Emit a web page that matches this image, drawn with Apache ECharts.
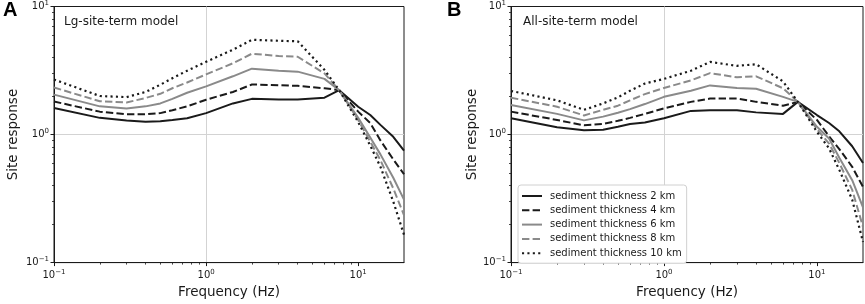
<!DOCTYPE html>
<html>
<head>
<meta charset="utf-8">
<script src="https://cdn.jsdelivr.net/npm/echarts@6.0.0/dist/echarts.min.js"></script>
<style>
  html, body { margin: 0; padding: 0; background: #fff; }
  #chart { width: 865px; height: 304px; }
</style>
</head>
<body>
<div id="chart"></div>
<script>
(function () {
  'use strict';

  // frequencies (Hz) shared by every curve
  var freqs = [0.1, 0.2, 0.3, 0.4, 0.5, 0.6, 0.75, 1, 1.5, 2, 3, 4, 6, 7.5, 10, 12, 14, 17, 20];

  // panel A: Lg-site-term model
  var lg2  = [1.61, 1.35, 1.29, 1.26, 1.27, 1.30, 1.34, 1.47, 1.75, 1.90, 1.88, 1.88, 1.94, 2.22, 1.65, 1.42, 1.19, 0.96, 0.75];
  var lg4  = [1.81, 1.51, 1.44, 1.44, 1.47, 1.55, 1.66, 1.87, 2.15, 2.46, 2.43, 2.40, 2.30, 2.22, 1.51, 1.23, 0.90, 0.64, 0.49];
  var lg6  = [2.05, 1.66, 1.60, 1.66, 1.75, 1.90, 2.12, 2.38, 2.85, 3.27, 3.15, 3.10, 2.72, 2.22, 1.35, 0.95, 0.70, 0.46, 0.31];
  var lg8  = [2.33, 1.82, 1.78, 1.93, 2.08, 2.30, 2.55, 2.95, 3.60, 4.28, 4.10, 4.05, 3.00, 2.22, 1.30, 0.88, 0.63, 0.38, 0.235];
  var lg10 = [2.69, 2.00, 1.96, 2.15, 2.45, 2.75, 3.15, 3.70, 4.60, 5.50, 5.40, 5.35, 3.20, 2.22, 1.25, 0.82, 0.56, 0.30, 0.165];

  // panel B: All-site-term model
  var all2  = [1.34, 1.14, 1.08, 1.09, 1.15, 1.21, 1.24, 1.34, 1.53, 1.55, 1.55, 1.49, 1.45, 1.80, 1.42, 1.23, 1.06, 0.81, 0.60];
  var all4  = [1.51, 1.30, 1.18, 1.21, 1.28, 1.35, 1.45, 1.60, 1.80, 1.91, 1.91, 1.80, 1.68, 1.80, 1.30, 0.97, 0.77, 0.56, 0.39];
  var all6  = [1.70, 1.45, 1.29, 1.38, 1.48, 1.58, 1.73, 1.97, 2.20, 2.42, 2.31, 2.28, 1.97, 1.80, 1.15, 0.93, 0.66, 0.44, 0.27];
  var all8  = [1.94, 1.65, 1.41, 1.56, 1.68, 1.85, 2.07, 2.31, 2.65, 3.02, 2.80, 2.85, 2.30, 1.80, 1.10, 0.85, 0.60, 0.37, 0.19];
  var all10 = [2.19, 1.85, 1.56, 1.75, 1.95, 2.20, 2.50, 2.72, 3.15, 3.69, 3.44, 3.54, 2.60, 1.80, 1.05, 0.78, 0.53, 0.31, 0.145];

  var names = ['sediment thickness 2 km', 'sediment thickness 4 km', 'sediment thickness 6 km',
               'sediment thickness 8 km', 'sediment thickness 10 km'];

  var majorTicks = [0.1, 1, 10];
  var minorTicksX = [0.2, 0.3, 0.4, 0.5, 0.6, 0.7, 0.8, 0.9, 2, 3, 4, 5, 6, 7, 8, 9];
  var minorTicksY = [0.2, 0.3, 0.4, 0.5, 0.6, 0.7, 0.8, 0.9, 2, 3, 4, 5, 6, 7, 8, 9];

  var FONT = 'DejaVu Sans';
  var INK = '#1a1a1a';
  var GRAY = '#8a8a8a';

  var lineStyles = [
    { color: INK, width: 2, type: 'solid' },
    { color: INK, width: 2, type: [7.4, 3.2], cap: 'butt' },
    { color: GRAY, width: 2, type: 'solid' },
    { color: GRAY, width: 2, type: [7.4, 3.2], cap: 'butt' },
    { color: INK, width: 2.2, type: [2.1, 3.3], cap: 'butt' }
  ];

  function powLabel(v) {
    var e = Math.round(Math.log(v) / Math.LN10);
    var s = e < 0 ? '\u2212' + (-e) : String(e);
    return '{b|10}{s|' + s + '}';
  }

  var tickRich = {
    b: { fontFamily: FONT, fontSize: 10, color: INK, lineHeight: 12 },
    s: { fontFamily: FONT, fontSize: 7, color: INK, padding: [0, 0, 6, 0] }
  };

  function mainAxis(dim, gridIndex, min, max, name, nameGap) {
    return {
      type: 'log', logBase: 10, gridIndex: gridIndex, min: min, max: max,
      position: dim === 'x' ? 'bottom' : 'left',
      name: name, nameLocation: 'middle', nameGap: nameGap,
      nameTextStyle: { fontFamily: FONT, fontSize: 13.5, color: INK },
      axisLine: { show: true, lineStyle: { color: INK, width: 1 } },
      axisTick: { show: true, inside: false, length: 3.5, customValues: majorTicks, lineStyle: { color: INK, width: 1 } },
      axisLabel: { customValues: majorTicks, formatter: powLabel, rich: tickRich, margin: dim === 'x' ? 6 : 5 },
      splitLine: { show: true, showMinLine: false, showMaxLine: false, lineStyle: { color: '#d3d3d3', width: 1 } },
      minorTick: { show: false }
    };
  }

  function minorAxis(dim, gridIndex, min, max, ticks) {
    return {
      type: 'log', logBase: 10, gridIndex: gridIndex, min: min, max: max,
      position: dim === 'x' ? 'bottom' : 'left',
      axisLine: { show: false },
      axisTick: { show: true, inside: false, length: 2, customValues: ticks, lineStyle: { color: INK, width: 0.8 } },
      axisLabel: { show: false },
      splitLine: { show: false }
    };
  }

  function panelSeries(panel, sets) {
    return sets.map(function (vals, k) {
      return {
        name: names[k], type: 'line', xAxisIndex: panel * 2, yAxisIndex: panel * 2,
        data: freqs.map(function (f, i) { return [f, vals[i]]; }),
        symbol: 'none', lineStyle: lineStyles[k], itemStyle: { color: lineStyles[k].color },
        silent: true, z: 3
      };
    });
  }

  var chart = echarts.init(document.getElementById('chart'), null, { renderer: 'canvas' });
  chart.setOption({
    animation: false,
    backgroundColor: '#fff',
    grid: [
      { left: 54, top: 6, width: 350, height: 261, show: true, borderColor: INK, borderWidth: 1, backgroundColor: 'transparent' },
      { left: 511, top: 6, width: 352, height: 261, show: true, borderColor: INK, borderWidth: 1, backgroundColor: 'transparent' }
    ],
    xAxis: [
      mainAxis('x', 0, 0.1, 20, 'Frequency (Hz)', 22),
      minorAxis('x', 0, 0.1, 20, minorTicksX),
      mainAxis('x', 1, 0.1, 20, 'Frequency (Hz)', 22),
      minorAxis('x', 1, 0.1, 20, minorTicksX)
    ],
    yAxis: [
      mainAxis('y', 0, 0.1, 10, 'Site response', 34),
      minorAxis('y', 0, 0.1, 10, minorTicksY),
      mainAxis('y', 1, 0.1, 10, 'Site response', 32),
      minorAxis('y', 1, 0.1, 10, minorTicksY)
    ],
    legend: {
      orient: 'vertical', left: 518, top: 185,
      padding: [5, 5, 4, 3], itemWidth: 20, itemHeight: 10, itemGap: 2.3,
      borderColor: '#d0d0d0', borderWidth: 1, borderRadius: 3, backgroundColor: '#fff',
      itemStyle: { opacity: 0 },
      textStyle: { fontFamily: FONT, fontSize: 10, color: INK, lineHeight: 12, padding: [0, 0, 0, 3] },
      data: names, selectedMode: false, z: 10
    },
    graphic: [
      { type: 'text', left: 3, top: 0, style: { text: 'A', font: 'bold 20px "Liberation Sans"', fill: '#000' } },
      { type: 'text', left: 447, top: 0, style: { text: 'B', font: 'bold 20px "Liberation Sans"', fill: '#000' } },
      { type: 'text', left: 64, top: 16, style: { text: 'Lg-site-term model', font: '12px "DejaVu Sans"', fill: INK } },
      { type: 'text', left: 523, top: 16, style: { text: 'All-site-term model', font: '12px "DejaVu Sans"', fill: INK } }
    ],
    series: panelSeries(0, [lg2, lg4, lg6, lg8, lg10]).concat(panelSeries(1, [all2, all4, all6, all8, all10]))
  });

  window.addEventListener('resize', function () { chart.resize(); });
})();
</script>
</body>
</html>
